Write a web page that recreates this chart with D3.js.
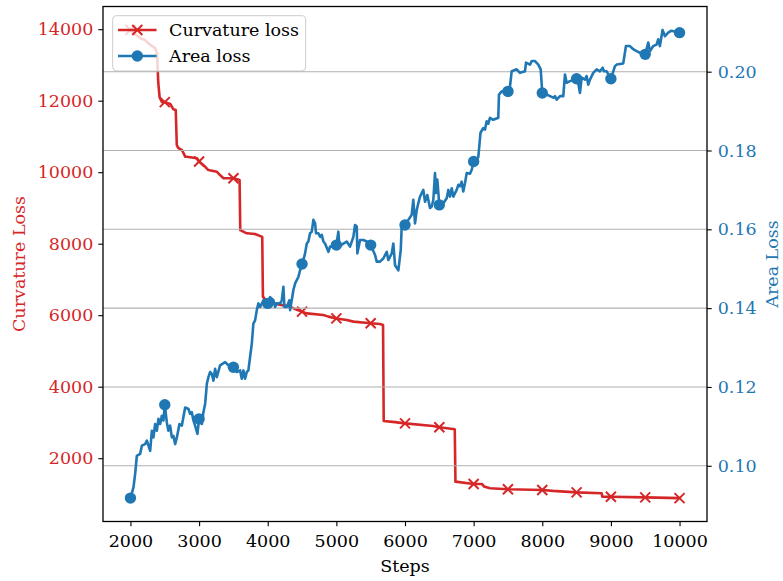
<!DOCTYPE html>
<html>
<head>
<meta charset="utf-8">
<script src="https://cdn.jsdelivr.net/npm/d3@7"></script>
<style>
  body { margin: 0; background: #fff; }
  svg { display: block; }
  text { font-family: "DejaVu Serif", serif; }
</style>
</head>
<body>
<svg id="chart" width="783" height="581"></svg>
<script>
// Curvature loss per training step (left axis)
const curvatureSteps = [2000, 2140, 2210, 2290, 2360, 2385, 2390, 2405, 2425, 2460, 2500, 2580, 2625, 2660, 2675, 2695,
  2750, 2800, 2820, 2970, 3000, 3090, 3135, 3260, 3305, 3355, 3500, 3590, 3600, 3695, 3815, 3920, 3930, 3985, 4085,
  4325, 4425, 4500, 4570, 4810, 4885, 5000, 5150, 5250, 5500, 5635, 5680, 5690, 5855, 6000, 6410, 6500, 6725, 6735,
  7000, 7120, 7150, 7240, 7500, 8000, 8155, 8500, 8865, 8875, 9000, 9500, 10000];
const curvatureValues = [13980, 13750, 13700, 13560, 13470, 13330, 13200, 12510, 12090, 11960, 11960, 11910, 11760, 11740, 10760, 10680,
  10620, 10430, 10430, 10390, 10300, 10150, 10060, 10010, 9920, 9830, 9830, 9780, 8380, 8290, 8270, 8190, 6520, 6380, 6330,
  6240, 6150, 6100, 6050, 6005, 5960, 5910, 5865, 5820, 5775, 5755, 5725, 3040, 3010, 2975, 2900, 2865, 2810, 1345,
  1280, 1280, 1210, 1160, 1130, 1110, 1085, 1045, 1020, 925, 923, 905, 884];

// Area loss per training step (right axis)
const areaSteps = [2000, 2044, 2068, 2093, 2141, 2166, 2214, 2239, 2287, 2312, 2335, 2360, 2384, 2408, 2433, 2457, 2481,
  2500, 2530, 2553, 2578, 2603, 2626, 2651, 2676, 2714, 2749, 2797, 2845, 2869, 2894, 2917, 2942, 2976,
  3000, 3040, 3063, 3088, 3113, 3136, 3161, 3185, 3209, 3233, 3258, 3306, 3379, 3427,
  3500, 3549, 3598, 3622, 3646, 3670, 3695, 3718, 3743, 3768, 3791, 3816, 3841, 3864, 3889, 3937,
  4000, 4034, 4083, 4107, 4132, 4180, 4205, 4228, 4243, 4278, 4316, 4326, 4350, 4374, 4399, 4423, 4447, 4471,
  4500, 4519, 4544, 4569, 4592, 4617, 4642, 4665, 4690, 4704, 4738, 4763, 4787, 4811, 4835, 4884, 4908, 4948,
  5000, 5029, 5044, 5102, 5151, 5199, 5248, 5272, 5297, 5306, 5345, 5393, 5443,
  5500, 5564, 5588, 5636, 5684, 5734, 5757, 5807, 5830, 5855, 5903, 5938, 5952,
  6000, 6049, 6098, 6121, 6146, 6171, 6194, 6219, 6244, 6267, 6292, 6325, 6365, 6389, 6413, 6437, 6452, 6471,
  6500, 6558, 6608, 6631, 6656, 6681, 6704, 6729, 6753, 6777, 6801, 6826, 6849, 6874, 6899, 6947, 6972,
  7000, 7068, 7100, 7141, 7166, 7190, 7214, 7238, 7286, 7359, 7369, 7409,
  7500, 7530, 7554, 7627, 7675, 7748, 7763, 7821, 7846, 7894, 7942, 7977,
  8000, 8064, 8112, 8160, 8185, 8210, 8258, 8306, 8331, 8355, 8404,
  8500, 8524, 8549, 8574, 8622, 8646, 8670, 8695, 8743, 8792, 8840, 8880, 8898, 8938,
  9000, 9059, 9084, 9180, 9219, 9277, 9325, 9375, 9423,
  9500, 9544, 9568, 9617, 9666, 9689, 9714, 9753, 9787, 9835, 9882, 10000];
const areaValues = [0.0918, 0.0945, 0.0979, 0.1025, 0.1030, 0.1051, 0.1055, 0.1064, 0.1038, 0.1089, 0.1072, 0.1106, 0.1089, 0.1119, 0.1106, 0.1127, 0.1115,
  0.1155, 0.1110, 0.1089, 0.1102, 0.1072, 0.1076, 0.1055, 0.1072, 0.1106, 0.1102, 0.1148, 0.1144, 0.1132, 0.1136, 0.1115, 0.1102, 0.1081,
  0.1119, 0.1106, 0.1136, 0.1157, 0.1208, 0.1225, 0.1238, 0.1233, 0.1216, 0.1246, 0.1225, 0.1255, 0.1263, 0.1255,
  0.1250, 0.1238, 0.1242, 0.1221, 0.1242, 0.1221, 0.1238, 0.1242, 0.1276, 0.1310, 0.1361, 0.1369, 0.1395, 0.1412, 0.1403, 0.1420,
  0.1412, 0.1428, 0.1420, 0.1403, 0.1412, 0.1412, 0.1420, 0.1454, 0.1403, 0.1403, 0.1420, 0.1395, 0.1420, 0.1446, 0.1463, 0.1471, 0.1479, 0.1496,
  0.1512, 0.1522, 0.1539, 0.1564, 0.1569, 0.1590, 0.1594, 0.1624, 0.1615, 0.1590, 0.1590, 0.1581, 0.1586, 0.1569, 0.1564, 0.1543, 0.1556, 0.1556,
  0.1560, 0.1594, 0.1556, 0.1564, 0.1569, 0.1556, 0.1581, 0.1611, 0.1607, 0.1539, 0.1573, 0.1573, 0.1569,
  0.1560, 0.1535, 0.1518, 0.1518, 0.1526, 0.1543, 0.1522, 0.1539, 0.1564, 0.1509, 0.1496, 0.1547, 0.1607,
  0.1611, 0.1624, 0.1637, 0.1675, 0.1615, 0.1649, 0.1666, 0.1683, 0.1692, 0.1700, 0.1670, 0.1687, 0.1654, 0.1658, 0.1675, 0.1743, 0.1692, 0.1726,
  0.1662, 0.1666, 0.1679, 0.1700, 0.1683, 0.1704, 0.1683, 0.1692, 0.1700, 0.1713, 0.1709, 0.1721, 0.1696, 0.1717, 0.1743, 0.1741, 0.1751,
  0.1772, 0.1783, 0.1845, 0.1857, 0.1853, 0.1874, 0.1868, 0.1883, 0.1878, 0.1883, 0.1942, 0.1950,
  0.1950, 0.1963, 0.2001, 0.2006, 0.1997, 0.2001, 0.2023, 0.2018, 0.2027, 0.2027, 0.2018, 0.2006,
  0.1946, 0.1942, 0.1938, 0.1934, 0.1938, 0.1929, 0.1938, 0.1938, 0.1993, 0.1972, 0.1976,
  0.1982, 0.1972, 0.1946, 0.1985, 0.1980, 0.1989, 0.1967, 0.1980, 0.1997, 0.2006, 0.2001, 0.2010, 0.2001, 0.2001,
  0.1982, 0.2014, 0.2018, 0.2021, 0.2065, 0.2065, 0.2057, 0.2052, 0.2048,
  0.2044, 0.2074, 0.2052, 0.2065, 0.2069, 0.2082, 0.2065, 0.2106, 0.2090, 0.2099, 0.2104, 0.2099];

const stepTicks = [2000, 3000, 4000, 5000, 6000, 7000, 8000, 9000, 10000];
const curvatureTicks = [2000, 4000, 6000, 8000, 10000, 12000, 14000];
const areaTicks = [0.10, 0.12, 0.14, 0.16, 0.18, 0.20];
const markerEvery = 500;

const RED = "#d62728", BLUE = "#1f77b4";
const FONT = 17.5;
const plot = { left: 103, right: 707, top: 6.5, bottom: 521.5 };

// Axis ranges with a 5% margin around the data
function padded(values) {
  const [lo, hi] = d3.extent(values);
  const m = (hi - lo) * 0.05;
  return [lo - m, hi + m];
}

const svg = d3.select("#chart");
const x = d3.scaleLinear().domain(padded(stepTicks.concat(curvatureSteps, areaSteps))).range([plot.left, plot.right]);
const yCurv = d3.scaleLinear().domain(padded(curvatureValues)).range([plot.bottom, plot.top]);
const yArea = d3.scaleLinear().domain(padded(areaValues)).range([plot.bottom, plot.top]);

const curvData = curvatureSteps.map((s, i) => ({ s, v: curvatureValues[i] }));
const areaData = areaSteps.map((s, i) => ({ s, v: areaValues[i] }));

svg.append("defs").append("clipPath").attr("id", "plotClip")
  .append("rect").attr("x", plot.left).attr("y", plot.top)
  .attr("width", plot.right - plot.left).attr("height", plot.bottom - plot.top);

// Curvature loss line with cross markers
const curvLayer = svg.append("g").attr("clip-path", "url(#plotClip)");
curvLayer.append("path").datum(curvData)
  .attr("fill", "none").attr("stroke", RED).attr("stroke-width", 2.6)
  .attr("stroke-linejoin", "round")
  .attr("d", d3.line().x(d => x(d.s)).y(d => yCurv(d.v)));
const crossPath = "M-5,-5L5,5M-5,5L5,-5";
curvLayer.selectAll(".cross").data(curvData.filter(d => d.s % markerEvery === 0))
  .enter().append("path").attr("class", "cross")
  .attr("transform", d => `translate(${x(d.s)},${yCurv(d.v)})`)
  .attr("d", crossPath).attr("stroke", RED).attr("stroke-width", 2).attr("fill", "none");

// Legend
const legend = svg.append("g");
legend.append("rect").attr("x", 112.7).attr("y", 15.7).attr("width", 193).attr("height", 55.3)
  .attr("rx", 4).attr("fill", "#fff").attr("fill-opacity", 0.8)
  .attr("stroke", "#cccccc").attr("stroke-width", 1);
const rows = [
  { label: "Curvature loss", color: RED, marker: "cross", y: 30 },
  { label: "Area loss", color: BLUE, marker: "circle", y: 56 }
];
rows.forEach(r => {
  legend.append("line").attr("x1", 118).attr("x2", 156.5).attr("y1", r.y).attr("y2", r.y)
    .attr("stroke", r.color).attr("stroke-width", 2.6);
  if (r.marker === "cross") {
    legend.append("path").attr("transform", `translate(137.3,${r.y})`).attr("d", crossPath)
      .attr("stroke", r.color).attr("stroke-width", 2).attr("fill", "none");
  } else {
    legend.append("circle").attr("cx", 137.3).attr("cy", r.y).attr("r", 5.7).attr("fill", r.color);
  }
  legend.append("text").attr("x", 169).attr("y", r.y).attr("dy", "0.35em")
    .attr("font-size", FONT).attr("fill", "#000").text(r.label);
});

// Horizontal grid at the area-loss ticks
svg.append("g").selectAll("line").data(areaTicks).enter().append("line")
  .attr("x1", plot.left).attr("x2", plot.right)
  .attr("y1", d => yArea(d)).attr("y2", d => yArea(d))
  .attr("stroke", "#b0b0b0").attr("stroke-width", 1.1);

// Area loss line with circle markers
const areaLayer = svg.append("g").attr("clip-path", "url(#plotClip)");
areaLayer.append("path").datum(areaData)
  .attr("fill", "none").attr("stroke", BLUE).attr("stroke-width", 2.6)
  .attr("stroke-linejoin", "round")
  .attr("d", d3.line().x(d => x(d.s)).y(d => yArea(d.v)));
areaLayer.selectAll(".dot").data(areaData.filter(d => d.s % markerEvery === 0))
  .enter().append("circle").attr("class", "dot")
  .attr("cx", d => x(d.s)).attr("cy", d => yArea(d.v)).attr("r", 5.7).attr("fill", BLUE);

// Axes
function styleAxis(g, color) {
  g.select(".domain").remove();
  g.selectAll(".tick line").attr("stroke", "#000").attr("stroke-width", 1.1);
  g.selectAll(".tick text").attr("font-size", FONT).attr("fill", color)
    .attr("font-family", '"DejaVu Serif", serif');
}

svg.append("g").attr("transform", `translate(0,${plot.bottom})`)
  .call(d3.axisBottom(x).tickValues(stepTicks).tickFormat(d3.format("d")).tickSize(4.7).tickPadding(8.2))
  .call(g => styleAxis(g, "#000"));

svg.append("g").attr("transform", `translate(${plot.left},0)`)
  .call(d3.axisLeft(yCurv).tickValues(curvatureTicks).tickFormat(d3.format("d")).tickSize(4.7).tickPadding(5))
  .call(g => styleAxis(g, RED));

svg.append("g").attr("transform", `translate(${plot.right},0)`)
  .call(d3.axisRight(yArea).tickValues(areaTicks).tickFormat(d3.format(".2f")).tickSize(4.7).tickPadding(6))
  .call(g => styleAxis(g, BLUE));

// Frame
svg.append("rect").attr("x", plot.left).attr("y", plot.top)
  .attr("width", plot.right - plot.left).attr("height", plot.bottom - plot.top)
  .attr("fill", "none").attr("stroke", "#000").attr("stroke-width", 1.3);

// Axis titles
svg.append("text").attr("x", (plot.left + plot.right) / 2).attr("y", 572)
  .attr("text-anchor", "middle").attr("font-size", FONT).attr("fill", "#000").text("Steps");
svg.append("text").attr("transform", `translate(25,${(plot.top + plot.bottom) / 2}) rotate(-90)`)
  .attr("text-anchor", "middle").attr("font-size", FONT).attr("fill", RED).text("Curvature Loss");
svg.append("text").attr("transform", `translate(765.5,${(plot.top + plot.bottom) / 2}) rotate(-90)`)
  .attr("text-anchor", "middle").attr("dy", "0.7em").attr("font-size", FONT).attr("fill", BLUE).text("Area Loss");
</script>
</body>
</html>
